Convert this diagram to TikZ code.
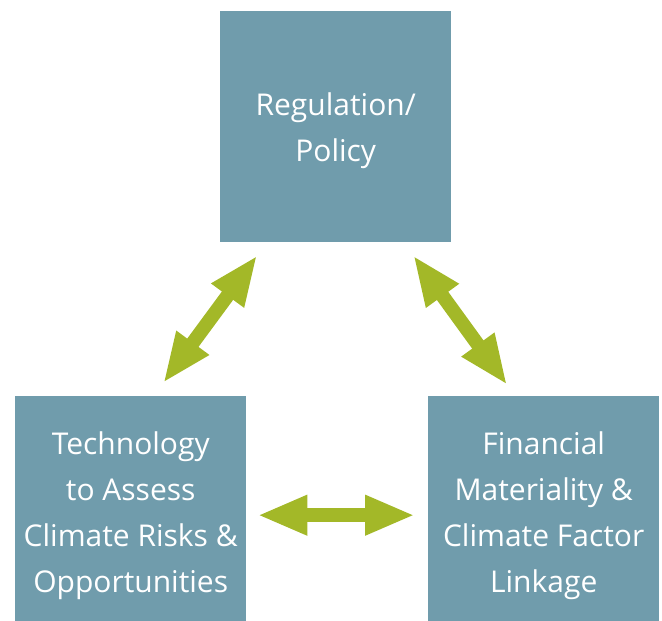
\documentclass[tikz,border=0pt]{standalone}
\usepackage{fontspec}
\setmainfont{Open Sans}
\usetikzlibrary{arrows.meta,calc}
\definecolor{boxblue}{RGB}{112,156,172}
\definecolor{arrowgreen}{RGB}{163,184,40}
\tikzset{
  topic/.style={draw=none,fill=boxblue,inner sep=0pt,
    minimum width=231pt,minimum height=231pt,anchor=north west},
  topictext/.style={text=white,align=center,font=\fontsize{30}{46}\selectfont},
  link/.style={draw=arrowgreen,line width=14pt,
    {Triangle[length=50pt,width=37pt]}-{Triangle[length=50pt,width=37pt]}}
}
\begin{document}
\begin{tikzpicture}[x=1pt,y=-1pt]
	\useasboundingbox (0,0) rectangle (662,621);
	\node[topic,label={[topictext,yshift=-4pt]center:Regulation/\\Policy}] (reg) at (220,11) {};
	\node[topic,label={[topictext,yshift=-4pt]center:Technology\\to Assess\\Climate Risks \&\\Opportunities}] (tech) at (15,396) {};
	\node[topic,label={[topictext,yshift=-4pt]center:Financial\\Materiality \&\\Climate Factor\\Linkage}] (fin) at (428,396) {};
	% two-way arrows between the boxes
	\draw[link] ($(tech.north)+(32.5,-13)$) -- ($(reg.south)+(-78.5,13)$);
	\draw[link] ($(reg.south)+(77.5,13)$) -- ($(fin.north)+(-36.5,-11)$);
	\draw[link] ($(tech.east)+(11,3.5)$) -- ($(fin.west)+(-13,3.5)$);
\end{tikzpicture}
\end{document}
